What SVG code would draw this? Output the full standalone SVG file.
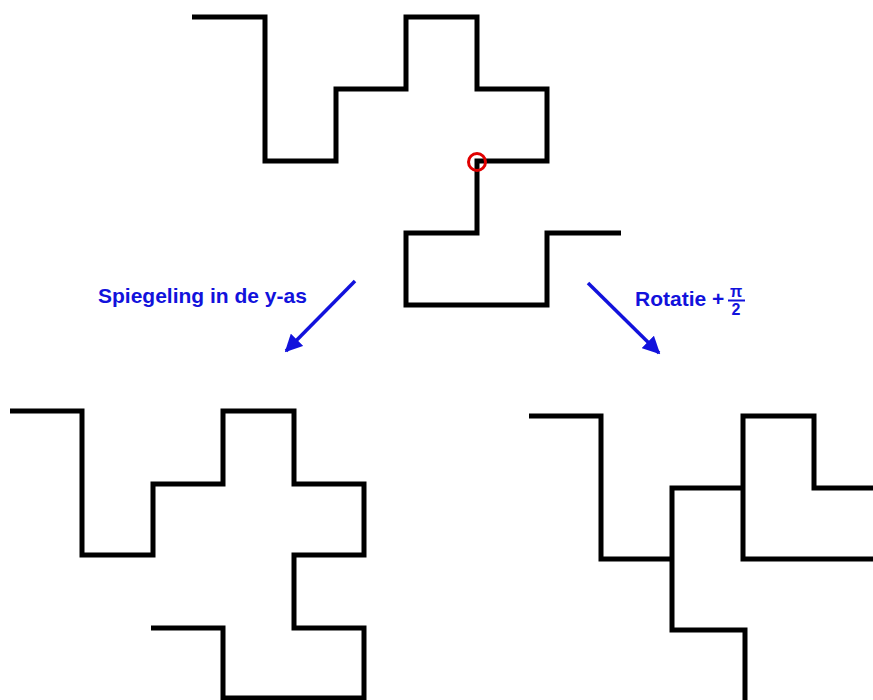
<svg xmlns="http://www.w3.org/2000/svg" width="873" height="700" viewBox="0 0 873 700">
<style>
.curve{fill:none;stroke:#000;stroke-width:5;stroke-linejoin:miter;stroke-linecap:butt}
.arrow{fill:none;stroke:#1212dc;stroke-width:3.5}
.lbl{font-family:"Liberation Sans",Arial,sans-serif;font-weight:bold;fill:#1212dc}
</style>
<defs>
<marker id="ah" viewBox="0 0 10 10" refX="9" refY="5" markerWidth="5" markerHeight="5" orient="auto" markerUnits="strokeWidth">
<path d="M0,0 L10,5 L0,10 z" fill="#1212dc"/>
</marker>
</defs>
<rect width="873" height="700" fill="#fff"/>
<g id="original">
<path class="curve" d="M192,17 H265 V161 H336 V89 H406 V17 H477 V89 H547 V161 H477 V233 H406 V305 H547 V233 H621"/>
<circle cx="477" cy="162" r="8.5" fill="none" stroke="#e00000" stroke-width="3"/>
</g>
<g id="mirrored">
<path class="curve" d="M10,411 H82 V555 H153 V484 H223 V411 H294 V484 H364 V555 H294 V628 H364 V698 H223 V628 H151"/>
</g>
<g id="rotated">
<path class="curve" d="M529,416 H601 V559 H672 V488 H743 V416 H814 V488 H890 V559 H743 V488 H672 V630 H745 V710"/>
</g>
<g id="connectors">
<line class="arrow" x1="355" y1="281" x2="286" y2="351" marker-end="url(#ah)"/>
<line class="arrow" x1="588" y1="283" x2="659" y2="353" marker-end="url(#ah)"/>
</g>
<g id="labels">
<text class="lbl" x="98" y="303" font-size="21">Spiegeling in de y-as</text>
<text class="lbl" x="635" y="306" font-size="21">Rotatie +</text>
<text class="lbl" x="736" y="297" font-size="16" text-anchor="middle">π</text>
<line x1="728" y1="300.5" x2="745" y2="300.5" stroke="#1212dc" stroke-width="2"/>
<text class="lbl" x="736" y="315" font-size="16" text-anchor="middle">2</text>
</g>
</svg>
